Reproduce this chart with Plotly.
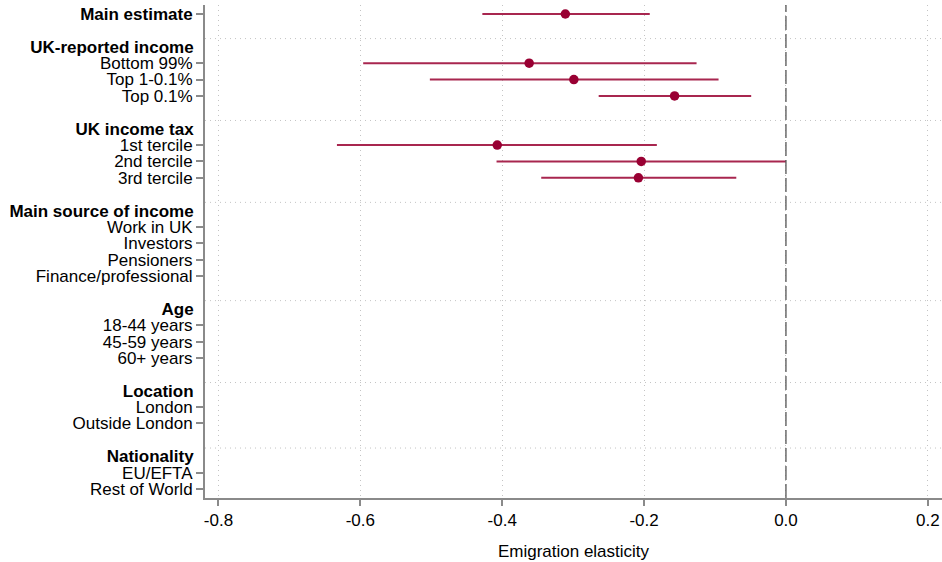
import plotly.graph_objects as go

# ---- data ----
group_headers = [None, "UK-reported income", "UK income tax", "Main source of income",
                 "Age", "Location", "Nationality"]
group_items = [
    ["Main estimate"],
    ["Bottom 99%", "Top 1-0.1%", "Top 0.1%"],
    ["1st tercile", "2nd tercile", "3rd tercile"],
    ["Work in UK", "Investors", "Pensioners", "Finance/professional"],
    ["18-44 years", "45-59 years", "60+ years"],
    ["London", "Outside London"],
    ["EU/EFTA", "Rest of World"],
]
estimates = [-0.311, -0.362, -0.299, -0.157, -0.407, -0.204, -0.208,
             None, None, None, None, None, None, None, None, None, None, None]
ci_low = [-0.428, -0.596, -0.502, -0.264, -0.633, -0.408, -0.345,
          None, None, None, None, None, None, None, None, None, None, None]
ci_high = [-0.192, -0.126, -0.095, -0.049, -0.182, 0.000, -0.070,
           None, None, None, None, None, None, None, None, None, None, None]
x_ticks = [-0.8, -0.6, -0.4, -0.2, 0.0, 0.2]
x_ticklabels = ["-0.8", "-0.6", "-0.4", "-0.2", "0.0", "0.2"]

# ---- row layout ----
item_pos, item_text, header_pos, header_text, separators = [], [], [], [], []
pos = 0
for h, items in zip(group_headers, group_items):
    if h is not None:
        separators.append(pos - 0.5)
        header_pos.append(pos)
        header_text.append(f"<b>{h}</b>")
        pos += 1
    for it in items:
        item_pos.append(pos)
        item_text.append(f"<b>{it}</b>" if h is None else it)
        pos += 1
    pos += 1

est_x, est_y, err_p, err_m = [], [], [], []
for e, lo, hi, y in zip(estimates, ci_low, ci_high, item_pos):
    if e is None:
        continue
    est_x.append(e)
    est_y.append(y)
    err_p.append(hi - e)
    err_m.append(e - lo)

FONT = "Liberation Sans, Arial, sans-serif"
FS = 17
AXIS_GRAY = "#8a8a8a"
GRID = "#c4c4c4"
yrange = [item_pos[-1] + 0.55, -0.55]

fig = go.Figure()
fig.add_trace(go.Scatter(
    x=est_x, y=est_y, mode="markers",
    marker=dict(color="#990033", size=9.5),
    error_x=dict(type="data", symmetric=False, array=err_p, arrayminus=err_m,
                 color="#a8264f", thickness=2, width=0),
    showlegend=False, hoverinfo="x+y",
))
fig.add_trace(go.Scatter(x=[None] * len(header_pos), y=header_pos, yaxis="y2",
                         mode="markers", showlegend=False, hoverinfo="skip"))

shapes = []
for s in separators:
    shapes.append(dict(type="line", xref="paper", x0=0, x1=1, yref="y", y0=s, y1=s,
                       line=dict(color=GRID, width=1, dash="1px,4px"), layer="below"))
shapes.append(dict(type="line", xref="x", x0=0, x1=0, yref="paper", y0=0, y1=1,
                   line=dict(color="#555555", width=1.3, dash="14px,4px")))

fig.update_layout(
    width=942, height=562,
    margin=dict(l=205, r=0, t=5, b=64, autoexpand=False),
    paper_bgcolor="white", plot_bgcolor="white",
    font=dict(family=FONT, size=FS, color="black"),
    shapes=shapes,
    xaxis=dict(
        range=[-0.819, 0.22], tickvals=x_ticks, ticktext=x_ticklabels,
        showgrid=True, gridcolor=GRID, griddash="1px,4px", gridwidth=1,
        zeroline=False, showline=True, linecolor=AXIS_GRAY, linewidth=2,
        ticks="outside", ticklen=6, tickcolor=AXIS_GRAY, tickwidth=1.5,
        ticklabelstandoff=0, automargin=False,
        title=dict(text="Emigration elasticity", standoff=16, font=dict(size=FS)),
    ),
    yaxis=dict(
        range=yrange, tickvals=item_pos, ticktext=item_text, automargin=False,
        showgrid=False, zeroline=False, showline=True, linecolor=AXIS_GRAY, linewidth=2,
        ticks="outside", ticklen=7, tickcolor=AXIS_GRAY, tickwidth=1.5,
    ),
    yaxis2=dict(
        range=yrange, overlaying="y", side="left", tickvals=header_pos, ticktext=header_text,
        showgrid=False, zeroline=False, showline=False, automargin=False,
        ticks="outside", ticklen=7, tickcolor="rgba(0,0,0,0)", tickwidth=1.5,
    ),
)

fig.write_html("out.html", config={"displayModeBar": False},
               post_script="document.body.style.margin='0';")
